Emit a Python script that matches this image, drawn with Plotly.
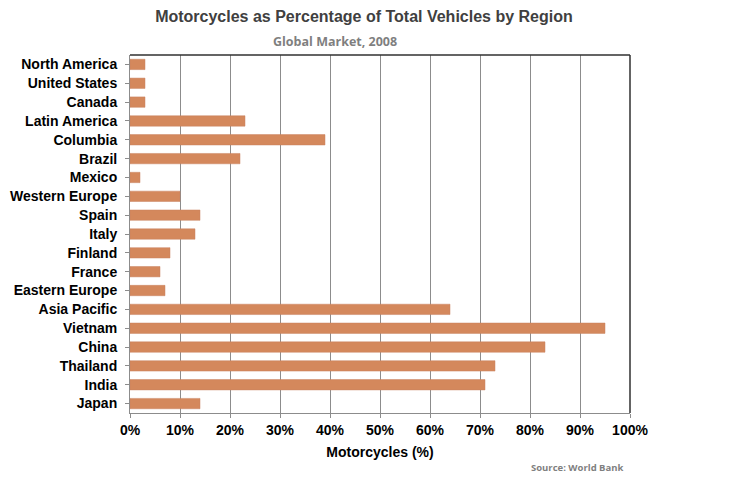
import plotly.graph_objects as go

regions = ["North America", "United States", "Canada", "Latin America", "Columbia",
           "Brazil", "Mexico", "Western Europe", "Spain", "Italy", "Finland", "France",
           "Eastern Europe", "Asia Pacific", "Vietnam", "China", "Thailand", "India", "Japan"]
share = [3, 3, 3, 23, 39, 22, 2, 10, 14, 13, 8, 6, 7, 64, 95, 83, 73, 71, 14]
x_ticks = [0, 10, 20, 30, 40, 50, 60, 70, 80, 90, 100]
x_labels = [f"{v}%" for v in x_ticks]

fig = go.Figure(go.Bar(
    x=share, y=regions, orientation="h",
    marker=dict(color="#D4885C", line=dict(color="#C98260", width=0.5)),
))

fig.update_layout(
    width=722, height=465,
    margin=dict(l=122, r=100, t=47, b=60),
    paper_bgcolor="white", plot_bgcolor="white",
    bargap=0.45,
    showlegend=False,
    font=dict(family="Liberation Sans, Arial", color="black"),
    title=dict(text="<b>Motorcycles as Percentage of Total Vehicles by Region</b>",
               x=0.493, xanchor="center", y=0.995, yanchor="top",
               font=dict(size=16, color="#404040")),
    xaxis=dict(range=[0, 100], tickvals=x_ticks,
               ticktext=[f"<b>{t}</b>" for t in x_labels],
               showgrid=True, gridcolor="#8C8C8C", gridwidth=1,
               showline=True, linecolor="#8C8C8C", linewidth=1,
               ticks="outside", ticklen=4, tickcolor="#8C8C8C",
               tickfont=dict(size=14, color="black"),
               title=dict(text="<b>Motorcycles (%)</b>", font=dict(size=14, color="black"), standoff=10),
               zeroline=False, fixedrange=True, automargin=False),
    yaxis=dict(categoryorder="array", categoryarray=regions[::-1],
               tickvals=regions, ticktext=[f"<b>{r}</b>" for r in regions],
               showline=True, linecolor="#8C8C8C", linewidth=1,
               ticks="outside", ticklen=4, tickcolor="#8C8C8C",
               tickfont=dict(size=14, color="black"),
               ticklabelstandoff=5, showgrid=False, fixedrange=True, automargin=False),
)

# dark frame lines on top and right
fig.add_shape(type="line", xref="paper", yref="paper", x0=0, x1=1, y0=1, y1=1,
              line=dict(color="#303030", width=1.5))
fig.add_shape(type="line", xref="paper", yref="paper", x0=1, x1=1, y0=0, y1=1,
              line=dict(color="#303030", width=1.5))

fig.add_annotation(text="<b>Global Market, 2008</b>", xref="paper", yref="paper",
                   x=0.41, y=1.0, yshift=14, xanchor="center", yanchor="middle", showarrow=False,
                   font=dict(size=12.5, color="#7F7F7F", family="Open Sans, Liberation Sans"))
fig.add_annotation(text="<b>Source: World Bank</b>", xref="paper", yref="paper",
                   x=0.99, y=0, yshift=-54, xanchor="right", yanchor="middle", showarrow=False,
                   font=dict(size=9.5, color="#7F7F7F", family="Open Sans, Liberation Sans"))

fig.write_html("out.html")
